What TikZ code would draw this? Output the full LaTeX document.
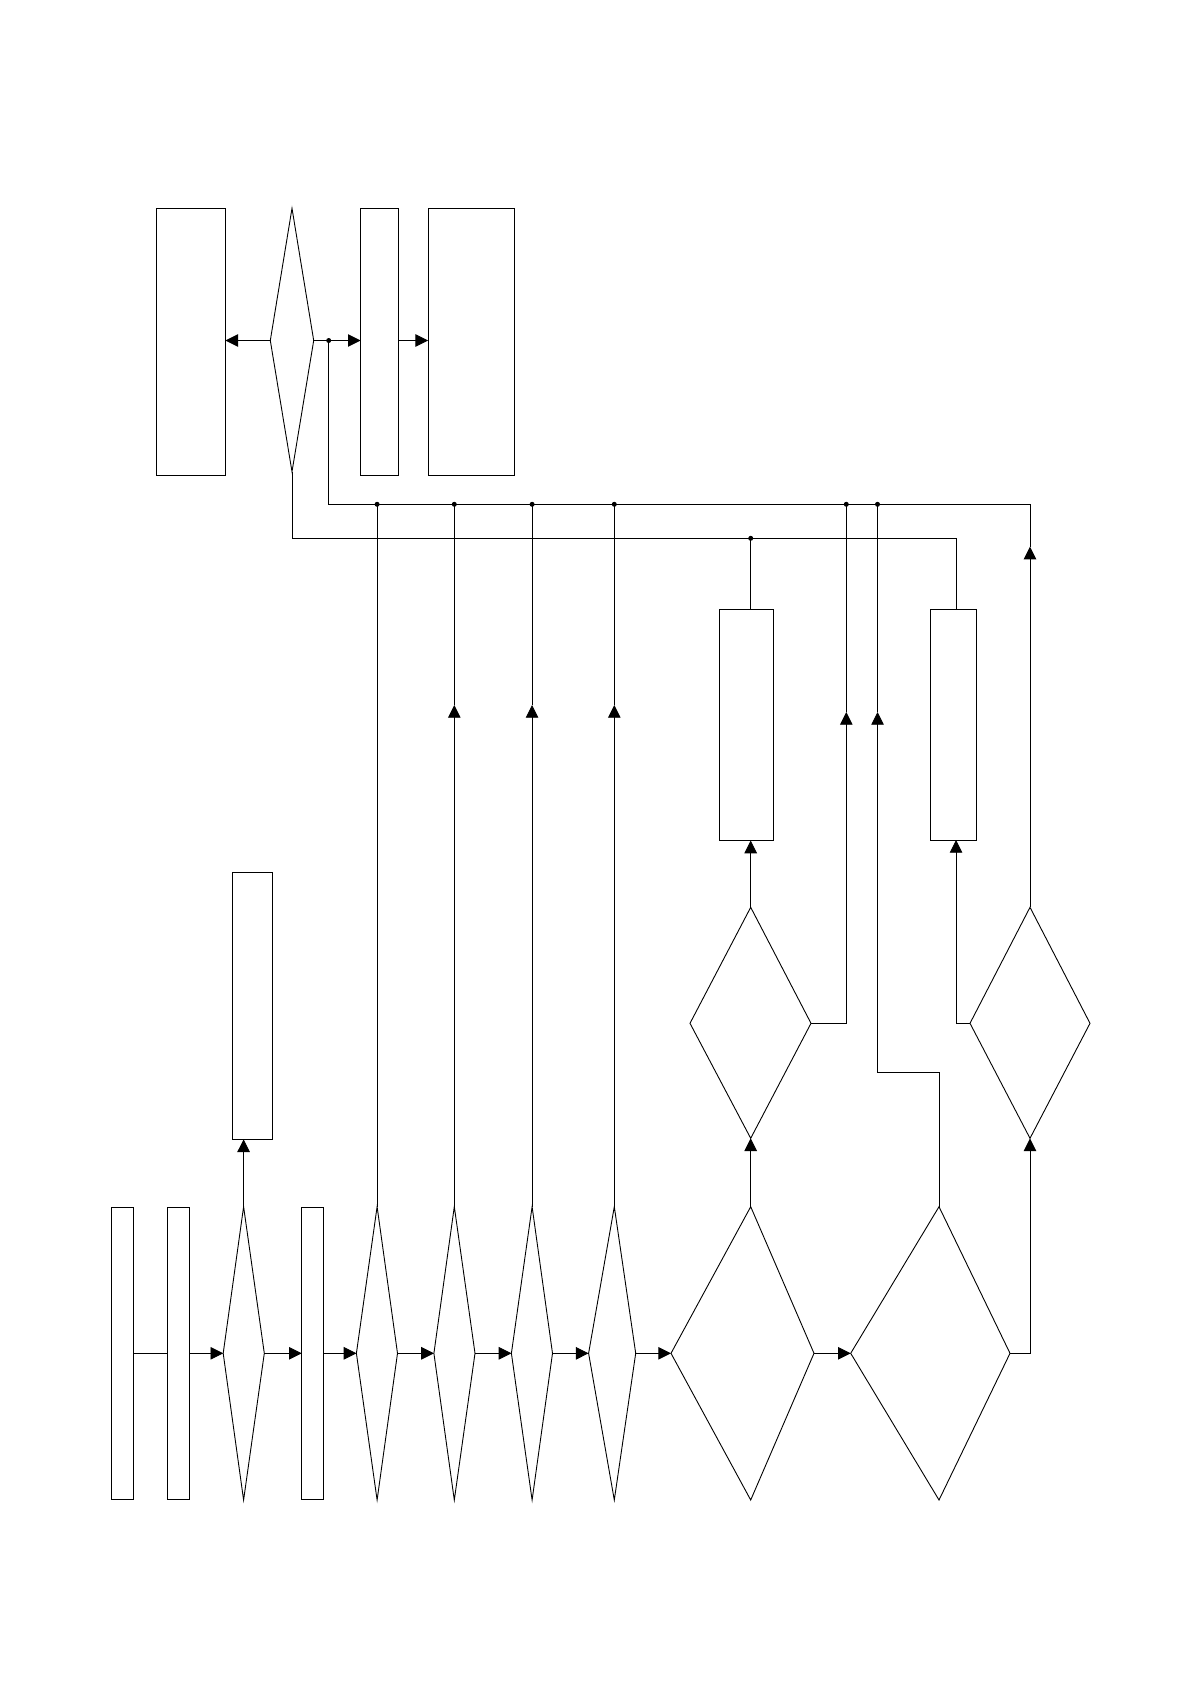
\documentclass[tikz,border=0pt]{standalone}
\usetikzlibrary{arrows.meta,calc}
\tikzset{
  ln/.style={line width=0.9pt, draw=black},
  box/.style={draw=black, line width=0.9pt, rectangle, inner sep=0pt, outer sep=0pt, fill=white},
  arr/.style={ln, -{Triangle[length=12.7pt,width=12.5pt]}},
  jdot/.style={circle, fill=black, inner sep=0pt, outer sep=0pt, minimum size=5pt},
}
\newcommand\mydiamond[7]{%
  \coordinate (#1-l) at (#2,#6);
  \coordinate (#1-t) at (#3,#5);
  \coordinate (#1-r) at (#4,#6);
  \coordinate (#1-b) at (#3,#7);
  \draw[ln] (#1-l) -- (#1-t) -- (#1-r) -- (#1-b) -- cycle;
}
\begin{document}
\begin{tikzpicture}[x=1pt,y=-1pt]
\useasboundingbox (0,0) rectangle (1190,1684);
% top group
\node[box, minimum width=69pt, minimum height=267pt] (RA) at (190.8,341.8) {};
\node[box, minimum width=38pt, minimum height=267pt] (RB) at (379.7,341.8) {};
\node[box, minimum width=86.3pt, minimum height=267pt] (RC) at (471.2,341.8) {};
\mydiamond{D0}{270.3}{292}{313.7}{208.3}{340.5}{471.7}
% bottom row
\node[box, minimum width=21.4pt, minimum height=292.3pt] (Rr1) at (122.5,1353.3) {};
\node[box, minimum width=21.8pt, minimum height=292.3pt] (Rr2) at (178.4,1353.3) {};
\node[box, minimum width=21.8pt, minimum height=292.3pt] (Rr3) at (312.7,1353.3) {};
\mydiamond{d1}{223.2}{243.6}{264.3}{1206.7}{1353.3}{1500}
\mydiamond{d2}{356.4}{377.1}{397.5}{1206.7}{1353.3}{1500}
\mydiamond{d3}{433.9}{454.3}{475}{1206.7}{1353.3}{1500}
\mydiamond{d4}{511.4}{532.1}{552.5}{1206.7}{1353.3}{1500}
\mydiamond{d5}{588.6}{614.3}{635.7}{1206.7}{1353.3}{1500}
\mydiamond{D6}{671}{750.7}{814}{1206.7}{1353.3}{1500}
\mydiamond{D7}{850.7}{939}{1010}{1206.7}{1353.3}{1500}
% middle
\mydiamond{D9}{690}{750.7}{811}{907.3}{1023.3}{1138.3}
\mydiamond{D8}{970}{1030}{1090}{907.3}{1023.3}{1138.3}
\node[box, minimum width=39.7pt, minimum height=267pt] (Rs) at (252.2,1005.8) {};
\node[box, minimum width=54pt, minimum height=231.5pt] (R1) at (746.5,724.8) {};
\node[box, minimum width=45.8pt, minimum height=231pt] (R2) at (953.4,724.5) {};

% helper coordinates
\coordinate (ubL) at (328.7,504.3);
\coordinate (ubR) at (1030,504.3);
\coordinate (lbL) at (292,538.3);
\coordinate (lbR) at (956,538.3);
\coordinate (jt) at (328.7,340.5);
\coordinate (x956) at (956,0);
\coordinate (a3) at (454.3,705);
\coordinate (a4) at (532.1,705);
\coordinate (a5) at (614.3,705);
\coordinate (c9) at (846.3,1023.3);
\coordinate (a9) at (846.3,712);
\coordinate (c7a) at (939,1072.3);
\coordinate (c7b) at (877.5,1072.3);
\coordinate (a7) at (877.5,712);
\coordinate (a8) at (1030,546.7);
\coordinate (c8) at (1030,1353.3);

% top connectors
\draw[arr] (D0-l) -- (D0-l -| RA.east);
\draw[arr] (D0-r) -- (D0-r -| RB.west);
\draw[arr] (RB.east |- D0-r) -- (RC.west |- D0-r);

% bottom row connectors
\draw[ln] (Rr1.east) -- (Rr2.west);
\draw[arr] (Rr2.east) -- (d1-l);
\draw[arr] (d1-r) -- (Rr3.west);
\draw[arr] (Rr3.east) -- (d2-l);
\draw[arr] (d2-r) -- (d3-l);
\draw[arr] (d3-r) -- (d4-l);
\draw[arr] (d4-r) -- (d5-l);
\draw[arr] (d5-r) -- (D6-l);
\draw[arr] (D6-r) -- (D7-l);

% upward connectors
\draw[arr] (d1-t) -- (Rs.south -| d1-t);
\draw[ln] (d2-t) -- (d2-t |- ubL);
\draw[arr] (d3-t) -- (a3); \draw[ln] (a3) -- (a3 |- ubL);
\draw[arr] (d4-t) -- (a4); \draw[ln] (a4) -- (a4 |- ubL);
\draw[arr] (d5-t) -- (a5); \draw[ln] (a5) -- (a5 |- ubL);
\draw[arr] (D6-t) -- (D9-b);
\draw[arr] (D9-t) -- (R1.south -| D9-t);
\draw[arr] (D9-r) -- (c9) -- (a9); \draw[ln] (a9) -- (a9 |- ubL);
\draw[arr] (D7-t) -- (c7a) -- (c7b) -- (a7); \draw[ln] (a7) -- (a7 |- ubL);
\draw[arr] (D7-r) -- (c8) -- (D8-b);
\draw[arr] (D8-l) -| (R2.south -| x956);
\draw[arr] (D8-t) -- (a8);
\draw[ln] (a8) -- (ubR) -- (ubL) -- (jt);

% lower bus
\draw[ln] (D0-b) -- (lbL) -- (lbR) -- (R2.north -| x956);
\draw[ln] (D9-t |- lbL) -- (R1.north -| D9-t);

% junction dots
\node[jdot] (jd0) at (jt) {};
\node[jdot] (jd1) at (d2-t |- ubL) {};
\node[jdot] (jd2) at (a3 |- ubL) {};
\node[jdot] (jd3) at (a4 |- ubL) {};
\node[jdot] (jd4) at (a5 |- ubL) {};
\node[jdot] (jd5) at (a9 |- ubL) {};
\node[jdot] (jd6) at (a7 |- ubL) {};
\node[jdot] (jd7) at (D9-t |- lbL) {};
\end{tikzpicture}
\end{document}
